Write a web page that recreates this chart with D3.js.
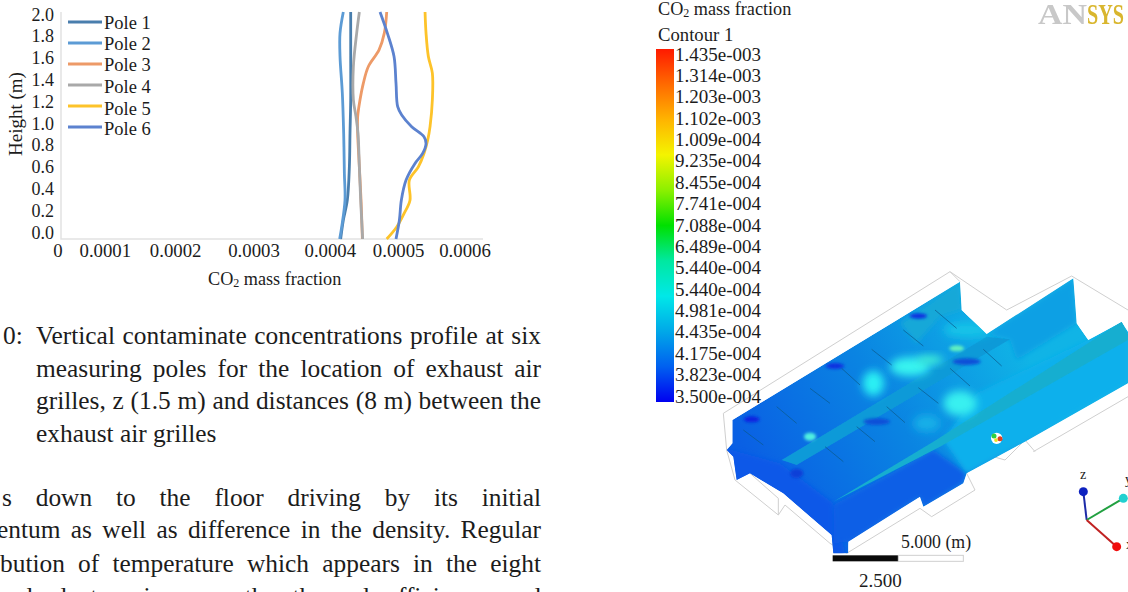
<!DOCTYPE html>
<head>
  <meta charset="utf-8">
  <script src="https://cdn.jsdelivr.net/npm/d3@7"></script>
  <style>
    body { margin:0; background:#fff; overflow:hidden; }
    text { font-family:"Liberation Serif",serif; fill:#1c1c1c; }
  </style>
</head>

<body>
  <script>
// chart values (mass fraction x 1e-4 against height)
var poleNames = ["Pole 1", "Pole 2", "Pole 3", "Pole 4", "Pole 5", "Pole 6"];
var poleColors = ["#4a7ead", "#5b9bd5", "#ed9a67", "#a9a9a9", "#fdc32a", "#5b82cf"];

var pole1 = [[4.119,2],[4.119,1.614],[4.119,1.225],[4.109,.931],[4.100,.636],[4.071,.342],[4.014,.165],[3.976,0]];
var pole2 = [[4.014,2],[3.967,1.814],[3.967,1.608],[4.000,1.284],[4.019,.931],[4.029,.577],[4.038,.342],[3.991,.106],[3.962,0]];
var pole3 = [[4.631,2],[4.597,1.814],[4.522,1.667],[4.370,1.52],[4.299,1.373],[4.251,1.225],[4.218,1.078],[4.218,.931],[4.242,.636],[4.266,.342],[4.285,0]];
var pole4 = [[4.242,2],[4.204,1.814],[4.157,1.52],[4.157,1.225],[4.194,1.078],[4.223,.931],[4.242,.636],[4.261,.342],[4.289,0]];
var pole5 = [[5.176,2],[5.190,1.814],[5.223,1.608],[5.280,1.461],[5.280,1.225],[5.247,.99],[5.214,.872],[5.161,.754],[5.081,.636],[4.953,.518],[4.962,.342],[4.877,.224],[4.773,.106],[4.631,0]];
var pole6 = [[4.536,2],[4.640,1.814],[4.735,1.608],[4.763,1.373],[4.787,1.166],[4.844,1.093],[4.986,.99],[5.161,.901],[5.190,.842],[5.142,.754],[5.033,.666],[4.905,.518],[4.839,.342],[4.811,.165],[4.763,0]];
var poles = [pole1, pole2, pole3, pole4, pole5, pole6];

var xTickValues = [0, 1, 2, 3, 4, 5, 6];
var xTickLabels = ["0", "0.0001", "0.0002", "0.0003", "0.0004", "0.0005", "0.0006"];
var yTickValues = [2, 1.8, 1.6, 1.4, 1.2, 1, .8, .6, .4, .2, 0];

var contourLabels = ["1.435e-003","1.314e-003","1.203e-003","1.102e-003","1.009e-004","9.235e-004","8.455e-004","7.741e-004","7.088e-004","6.489e-004","5.440e-004","5.440e-004","4.981e-004","4.435e-004","4.175e-004","3.823e-004","3.500e-004"];
var contourColors = ["#ff1a00","#ff6a00","#ffb400","#f4f400","#8cf000","#00e000","#00e8a0","#00e8e8","#00a8e8","#0060f0","#0000f0"];

var captionLines = ["Vertical contaminate concentrations profile at six","measuring poles for the location of exhaust air","grilles, z (1.5 m) and distances (8 m) between the","exhaust air grilles"];
var bodyLines = ["s down to the floor driving by its initial","entum as well as difference in the density. Regular","bution of temperature which appears in the eight","and clusters improve the thermal efficiency and"];

var width = 1128, height = 592;

var svg = d3.select("body").append("svg")
  .attr("width", width)
  .attr("height", height);

var defs = svg.append("defs");
function blurFilter(id, s) {
  defs.append("filter").attr("id", id)
    .attr("x", "-50%").attr("y", "-50%").attr("width", "200%").attr("height", "200%")
    .append("feGaussianBlur").attr("stdDeviation", s);
}
blurFilter("soft", 0.7);
blurFilter("blur2", 1.6);
blurFilter("panel", 2.5);
blurFilter("softer", 4);

// ---- line chart ----
var x = d3.scaleLinear().domain([0, 6]).range([61, 483]);
var y = d3.scaleLinear().domain([0, 2]).range([239, 12]);
// the tick labels in the source sit off the real tick positions
var yLabel = d3.scaleLinear().domain([0, 2]).range([233, 15]);
var xLabelNudge = [-3, -26, -26, -18, -12, -14, -18];

var chart = svg.append("g");

chart.append("path")
  .attr("d", "M" + x(0) + "," + y(2) + "V" + y(0) + "H" + x(6))
  .attr("fill", "none")
  .attr("stroke", "#e2e2e2")
  .attr("stroke-width", 1.5);

var line = d3.line()
  .x(function(d) { return x(d[0]); })
  .y(function(d) { return y(d[1]); })
  .curve(d3.curveCatmullRom.alpha(0.5));

chart.append("g").attr("filter", "url(#soft)")
  .selectAll("path")
  .data(poles)
  .enter().append("path")
  .attr("d", line)
  .attr("fill", "none")
  .attr("stroke", function(d, i) { return poleColors[i]; })
  .attr("stroke-width", 2.8);

chart.selectAll(".xlab")
  .data(xTickValues)
  .enter().append("text")
  .attr("class", "xlab")
  .attr("x", function(d, i) { return x(d) + xLabelNudge[i]; })
  .attr("y", 257)
  .attr("text-anchor", "middle")
  .attr("font-size", 18.8)
  .text(function(d, i) { return xTickLabels[i]; });

chart.selectAll(".ylab")
  .data(yTickValues)
  .enter().append("text")
  .attr("class", "ylab")
  .attr("x", 54)
  .attr("y", function(d) { return yLabel(d) + 5.5; })
  .attr("text-anchor", "end")
  .attr("font-size", 18)
  .text(function(d) { return d.toFixed(1); });

chart.append("text")
  .attr("transform", "translate(22,156) rotate(-90)")
  .attr("font-size", 19)
  .text("Height (m)");

var xt = chart.append("text").attr("x", 208).attr("y", 285).attr("font-size", 18.2);
xt.append("tspan").text("CO");
xt.append("tspan").attr("font-size", 12).attr("dy", 2).text("2");
xt.append("tspan").attr("dy", -2).text(" mass fraction");

var legend = chart.selectAll(".leg")
  .data(poleNames)
  .enter().append("g")
  .attr("class", "leg")
  .attr("transform", function(d, i) { return "translate(0," + [22, 43, 64, 85, 106, 127][i] + ")"; });
legend.append("rect")
  .attr("x", 68).attr("y", -1.5)
  .attr("width", 34).attr("height", 3)
  .attr("fill", function(d, i) { return poleColors[i]; })
  .attr("filter", "url(#soft)");
legend.append("text")
  .attr("x", 104)
  .attr("y", function(d, i) { return 6.5 + [0.5, 0, 0.5, 1.5, 2.5, 1.5][i]; })
  .attr("font-size", 18.5)
  .text(function(d) { return d; });

// ---- running text ----
// stretch the gaps between words so a line runs from x0 to x1
function justify(sel, x0s, x1s) {
  sel.each(function(d, i) {
    var n = d.split(" ").length - 1;
    var w = this.getComputedTextLength();
    d3.select(this)
      .attr("x", x0s[i])
      .attr("word-spacing", x1s[i] === null ? 0 : (x1s[i] - x0s[i] - w) / n);
  });
}

var paraFont = 25.4;
svg.append("text").attr("x", 3).attr("y", 344).attr("font-size", paraFont).text("0:");
svg.selectAll(".cap")
  .data(captionLines)
  .enter().append("text")
  .attr("class", "cap")
  .attr("y", function(d, i) { return [344, 377, 409, 442][i]; })
  .attr("font-size", paraFont)
  .text(function(d) { return d; })
  .call(justify, [36, 36, 36, 36], [541, 541, 541, null]);
svg.selectAll(".body")
  .data(bodyLines)
  .enter().append("text")
  .attr("class", "body")
  .attr("y", function(d, i) { return [506, 538, 572, 605][i]; })
  .attr("font-size", paraFont)
  .text(function(d) { return d; })
  .call(justify, [2, -3, 0, -4], [541, 541, 541, 541]);

// ---- contour legend ----
var h1 = svg.append("text").attr("x", 658).attr("y", 15).attr("font-size", 18.2);
h1.append("tspan").text("CO");
h1.append("tspan").attr("font-size", 12).attr("dy", 2).text("2");
h1.append("tspan").attr("dy", -2).text(" mass fraction");
svg.append("text").attr("x", 658).attr("y", 41).attr("font-size", 18.7).text("Contour 1");

var grad = defs.append("linearGradient").attr("id", "bar")
  .attr("x1", 0).attr("x2", 0).attr("y1", 0).attr("y2", 1);
grad.selectAll("stop")
  .data(contourColors)
  .enter().append("stop")
  .attr("offset", function(d, i) { return i / (contourColors.length - 1); })
  .attr("stop-color", function(d) { return d; });

svg.append("rect")
  .attr("x", 656).attr("y", 49)
  .attr("width", 18).attr("height", 353)
  .attr("fill", "url(#bar)");

var cbY = d3.scaleLinear().domain([0, contourLabels.length - 1]).range([55, 397]);

// ---- 3D contour view, outlines measured in a 3x crop of the area ----
var mx = d3.scaleLinear().domain([0, 1284]).range([700, 1128]);
var my = d3.scaleLinear().domain([0, 996]).range([260, 592]);
var pts = function(a) { return a.map(function(p) { return mx(p[0]) + "," + my(p[1]); }).join(" "); };

var view = svg.append("g");

var frame = [
  [[70,460],[750,35],[920,150],[1115,48],[1284,150]],
  [[70,460],[80,570],[105,660]],
  [[105,660],[235,765],[235,715],[150,640]],
  [[235,765],[255,735],[390,850],[440,880]],
  [[440,880],[660,745],[695,770],[825,690],[800,640]],
  [[1000,575],[1284,410]],
  [[750,35],[780,65]],
  [[880,590],[915,600],[975,540],[1005,575]]
];
view.selectAll(".frame")
  .data(frame)
  .enter().append("polyline")
  .attr("class", "frame")
  .attr("points", pts)
  .attr("fill", "none")
  .attr("stroke", "#cfcfcf")
  .attr("stroke-width", 1);

var outline = [[97,480],[780,65],[785,150],[860,222],[1120,55],[1130,190],[1165,240],[1265,185],[1284,215],[1284,370],[975,545],[800,640],[790,670],[670,740],[660,710],[445,845],[445,880],[400,880],[395,825],[250,700],[150,640],[110,660],[100,590],[80,570],[97,550]];

defs.append("clipPath").attr("id", "shell")
  .append("polygon").attr("points", pts(outline));

var sg = defs.append("linearGradient").attr("id", "sweep")
  .attr("gradientUnits", "userSpaceOnUse")
  .attr("x1", mx(150)).attr("y1", my(600)).attr("x2", mx(900)).attr("y2", my(150));
[["0", "#0a60e4"], [".5", "#0a84e2"], ["1", "#10b4e6"]].forEach(function(s) {
  sg.append("stop").attr("offset", s[0]).attr("stop-color", s[1]);
});

var shell = view.append("g").attr("clip-path", "url(#shell)");
shell.append("polygon").attr("points", pts(outline)).attr("fill", "url(#sweep)");

// soft colour areas of the surface
var panels = [
  { c: "#0a58e8", p: [[60,560],[240,610],[400,730],[440,900],[390,900],[250,720],[140,660],[90,680]] },
  { c: "#0a5ee6", p: [[400,735],[700,570],[800,640],[790,670],[670,740],[660,710],[445,845],[400,850]] },
  { c: "#0aa0e4", p: [[860,222],[1120,55],[1130,190],[950,300],[930,240]] },
  { c: "#0cb0ec", p: [[830,400],[1165,240],[1284,215],[1284,370],[975,545],[800,640],[730,540]] },
  { c: "#12a8d8", p: [[600,190],[780,65],[785,150],[720,170],[650,250]] }
];
shell.selectAll(".area")
  .data(panels)
  .enter().append("polygon")
  .attr("class", "area")
  .attr("points", function(d) { return pts(d.p); })
  .attr("fill", function(d) { return d.c; })
  .attr("filter", "url(#panel)");

// ridge strips keep a crisper edge
var strips = [
  { c: "#0f9ad8", p: [[245,600],[860,230],[930,238],[290,615]] },
  { c: "#16aed0", p: [[400,725],[700,545],[1265,185],[1284,225],[1284,240],[720,560]] }
];
shell.selectAll(".strip")
  .data(strips)
  .enter().append("polygon")
  .attr("class", "strip")
  .attr("points", function(d) { return pts(d.p); })
  .attr("fill", function(d) { return d.c; })
  .attr("filter", "url(#soft)");

var blobs = [
  [520,370,32,38,"#2cf0f4"],[630,320,60,28,"#38f4f0"],[690,300,40,14,"#40f0d8"],[770,265,22,9,"#60f0c0"],[780,430,50,38,"#38f0f0"],
  [330,530,18,12,"#50f0e0"],[680,490,40,25,"#12b0e8"],[800,210,70,22,"#14c4e8"],[155,478,24,9,"#0a20e0"],[405,318,28,9,"#0a30e0"],
  [655,168,26,8,"#0a30e0"],[530,485,40,10,"#0a50d8"],[800,305,42,10,"#0a50d8"],[290,640,20,14,"#0a40d8"]
];
shell.selectAll("ellipse")
  .data(blobs)
  .enter().append("ellipse")
  .attr("cx", function(d) { return mx(d[0]); })
  .attr("cy", function(d) { return my(d[1]); })
  .attr("rx", function(d) { return d[2] / 3; })
  .attr("ry", function(d) { return d[3] / 3; })
  .attr("fill", function(d) { return d[4]; })
  .attr("filter", function(d) { return d[2] > 30 && d[3] > 12 ? "url(#softer)" : "url(#blur2)"; });

var beams = [
  [130,510,190,555],[230,440,290,490],[330,385,390,430],[425,325,480,375],[515,268,575,315],[610,210,670,258],[705,150,770,205],
  [375,560,430,605],[470,500,525,545],[560,440,615,488],[655,383,715,430],[750,325,810,378],[850,268,905,318]
];
shell.selectAll(".beam")
  .data(beams)
  .enter().append("line")
  .attr("class", "beam")
  .attr("x1", function(d) { return mx(d[0]); })
  .attr("y1", function(d) { return my(d[1]); })
  .attr("x2", function(d) { return mx(d[2]); })
  .attr("y2", function(d) { return my(d[3]); })
  .attr("stroke", "#0b5a8c")
  .attr("stroke-opacity", .7)
  .attr("stroke-width", 1);

// hot spot
[[890,535,9,"#ffffff"],[882,528,4,"#30d040"],[900,536,4,"#e04020"],[888,540,3,"#f0e020"]].forEach(function(h) {
  view.append("circle").attr("cx", mx(h[0])).attr("cy", my(h[1])).attr("r", h[2] / 1.6)
    .attr("fill", h[3]).attr("filter", "url(#soft)");
});

// legend labels go over the model, as in the source
svg.selectAll(".cb")
  .data(contourLabels)
  .enter().append("text")
  .attr("class", "cb")
  .attr("x", 675)
  .attr("y", function(d, i) { return cbY(i) + 5.5; })
  .attr("font-size", 19)
  .text(function(d) { return d; });

// scale bar
view.append("rect").attr("x", mx(398)).attr("y", my(886)).attr("width", 66).attr("height", 6).attr("fill", "#0a0a0a");
view.append("rect").attr("x", mx(595)).attr("y", my(886)).attr("width", 65).attr("height", 6).attr("fill", "#fff").attr("stroke", "#cfcfcf");
svg.append("text").attr("x", 901).attr("y", 548).attr("font-size", 17.8).text("5.000 (m)");
svg.append("text").attr("x", 859).attr("y", 587).attr("font-size", 19).text("2.500");

// axis triad
var triad = [[1150,695,"#1c2aa8","#1020c0"],[1270,715,"#20a040","#20d0d0"],[1250,860,"#c02020","#f01010"]];
triad.forEach(function(t) {
  view.append("line")
    .attr("x1", mx(1160)).attr("y1", my(780))
    .attr("x2", mx(t[0])).attr("y2", my(t[1]))
    .attr("stroke", t[2]).attr("stroke-width", 2)
    .attr("filter", "url(#soft)");
  view.append("circle")
    .attr("cx", mx(t[0])).attr("cy", my(t[1])).attr("r", 4.5)
    .attr("fill", t[3]).attr("filter", "url(#soft)");
});
svg.append("text").attr("x", 1080).attr("y", 479).attr("font-size", 14).text("z");
svg.append("text").attr("x", 1125).attr("y", 484).attr("font-size", 14).text("y");
svg.append("text").attr("x", 1126).attr("y", 549).attr("font-size", 14).text("x");

// logo
[["AN", 1038, 49, "#c8c8c8"], ["SYS", 1087, 37, "#d9b62e"]].forEach(function(l) {
  svg.append("text")
    .attr("x", l[1]).attr("y", 24)
    .attr("font-size", 29)
    .attr("font-weight", "bold")
    .attr("filter", "url(#soft)")
    .attr("textLength", l[2]).attr("lengthAdjust", "spacingAndGlyphs")
    .style("fill", l[3])
    .text(l[0]);
});
  </script>
</body>
